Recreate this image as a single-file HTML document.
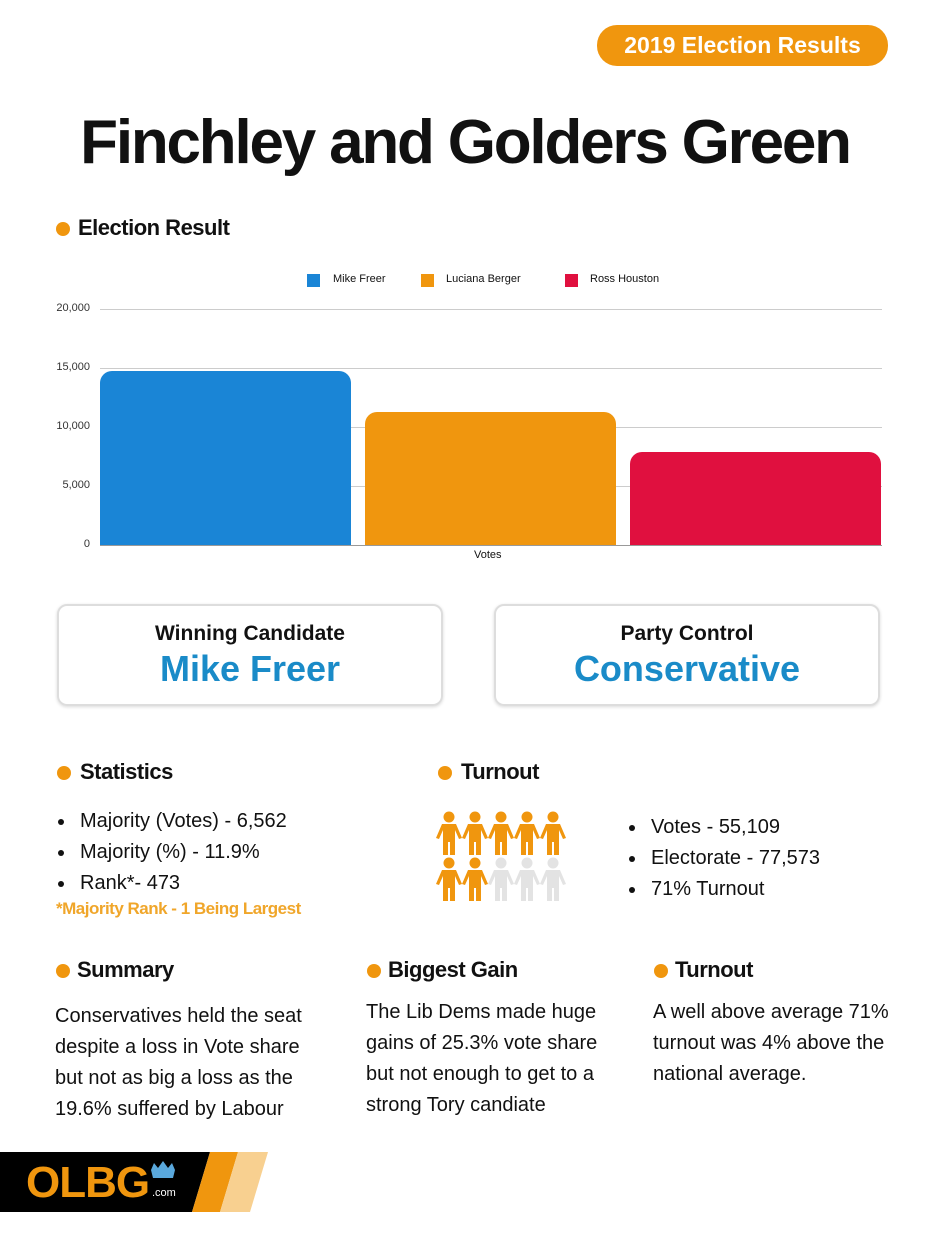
<!DOCTYPE html>
<html><head><meta charset="utf-8"><style>
*{margin:0;padding:0;box-sizing:border-box}
body{width:930px;height:1250px;background:#fff;font-family:"Liberation Sans",sans-serif;position:relative;overflow:hidden;color:#111}
.a{position:absolute}
.dot{position:absolute;width:14px;height:14px;border-radius:50%;background:#f0960e}
.h{font-size:22px;font-weight:bold;letter-spacing:-0.5px}
.box{position:absolute;border:2px solid #ddd;border-radius:10px;text-align:center;box-shadow:0 1px 3px rgba(0,0,0,.15)}
.box .t{font-size:21px;font-weight:bold;margin-top:16px}
.box .v{font-size:36px;font-weight:bold;color:#1a8bc8;margin-top:2px}
ul{list-style:none}
li{font-size:20px;line-height:31px;position:relative;padding-left:24px}
li:before{content:"";position:absolute;left:2px;top:13px;width:6px;height:6px;border-radius:50%;background:#111}
.p{font-size:20px;line-height:31px}
.tick{position:absolute;font-size:11px;color:#333;right:840px;text-align:right}
.grid{position:absolute;left:100px;width:782px;height:1px;background:#ccc}
</style></head><body>
<div class="a" style="left:597px;top:25px;width:291px;height:41px;background:#f0960e;border-radius:20px;color:#fff;font-size:23px;font-weight:bold;text-align:center;line-height:41px">2019 Election Results</div>
<div class="a" style="left:0;width:930px;top:107px;text-align:center;font-size:62px;font-weight:bold;letter-spacing:-2.2px">Finchley and Golders Green</div>

<div class="dot" style="left:56px;top:222px"></div><div class="a h" style="left:78px;top:215px">Election Result</div>

<div class="a" style="left:307px;top:274px;width:13px;height:13px;background:#1a85d6"></div><div class="a" style="left:333px;top:273px;font-size:11px">Mike Freer</div>
<div class="a" style="left:421px;top:274px;width:13px;height:13px;background:#f0960e"></div><div class="a" style="left:446px;top:273px;font-size:11px">Luciana Berger</div>
<div class="a" style="left:565px;top:274px;width:13px;height:13px;background:#e0103f"></div><div class="a" style="left:590px;top:273px;font-size:11px">Ross Houston</div>

<div class="grid" style="top:309px"></div><div class="grid" style="top:368px"></div><div class="grid" style="top:427px"></div><div class="grid" style="top:486px"></div><div class="grid" style="top:545px;background:#999"></div>
<div class="tick" style="top:302px">20,000</div><div class="tick" style="top:361px">15,000</div><div class="tick" style="top:420px">10,000</div><div class="tick" style="top:479px">5,000</div><div class="tick" style="top:538px">0</div>
<div class="a" style="left:100px;top:371px;width:251px;height:174px;background:#1a85d6;border-radius:12px 12px 0 0"></div>
<div class="a" style="left:365px;top:412px;width:251px;height:133px;background:#f0960e;border-radius:12px 12px 0 0"></div>
<div class="a" style="left:630px;top:452px;width:251px;height:93px;background:#e0103f;border-radius:12px 12px 0 0"></div>
<div class="a" style="left:474px;top:549px;font-size:11px">Votes</div>

<div class="box" style="left:57px;top:604px;width:386px;height:102px"><div class="t">Winning Candidate</div><div class="v">Mike Freer</div></div>
<div class="box" style="left:494px;top:604px;width:386px;height:102px"><div class="t">Party Control</div><div class="v">Conservative</div></div>

<div class="dot" style="left:57px;top:766px"></div><div class="a h" style="left:80px;top:759px">Statistics</div>
<div class="dot" style="left:438px;top:766px"></div><div class="a h" style="left:461px;top:759px">Turnout</div>
<ul class="a" style="left:56px;top:806px"><li>Majority (Votes) - 6,562</li><li>Majority (%) - 11.9%</li><li>Rank*- 473</li></ul>
<div class="a" style="left:56px;top:899px;font-size:17px;font-weight:bold;color:#f0a62a;letter-spacing:-0.5px">*Majority Rank - 1 Being Largest</div>

<svg class="a" style="left:436px;top:810px" width="132" height="94" viewBox="0 0 132 94">
<defs><g id="m"><circle cx="13" cy="7" r="5.5"/><path d="M6 14h14l6 14-3 1-4-9v25h-5V32h-2v13H7V20l-4 9-3-1z"/></g></defs>
<g fill="#f0960e"><use href="#m" x="0"/><use href="#m" x="26"/><use href="#m" x="52"/><use href="#m" x="78"/><use href="#m" x="104"/><use href="#m" x="0" y="46"/><use href="#m" x="26" y="46"/></g>
<g fill="#e3e3e3"><use href="#m" x="52" y="46"/><use href="#m" x="78" y="46"/><use href="#m" x="104" y="46"/></g>
</svg>
<ul class="a" style="left:627px;top:812px"><li>Votes - 55,109</li><li>Electorate - 77,573</li><li>71% Turnout</li></ul>

<div class="dot" style="left:56px;top:964px"></div><div class="a h" style="left:77px;top:957px">Summary</div>
<div class="dot" style="left:367px;top:964px"></div><div class="a h" style="left:388px;top:957px">Biggest Gain</div>
<div class="dot" style="left:654px;top:964px"></div><div class="a h" style="left:675px;top:957px">Turnout</div>
<div class="a p" style="left:55px;top:1001px;width:256px">Conservatives held the seat despite a loss in Vote share but not as big a loss as the 19.6% suffered by Labour</div>
<div class="a p" style="left:366px;top:997px;width:248px">The Lib Dems made huge gains of 25.3% vote share but not enough to get to a strong Tory candiate</div>
<div class="a p" style="left:653px;top:997px;width:248px">A well above average 71% turnout was 4% above the national average.</div>

<svg class="a" style="left:0;top:1152px" width="270" height="62">
<polygon points="0,0 210,0 192,60 0,60" fill="#000"/>
<polygon points="210,0 238,0 220,60 192,60" fill="#f0960e"/>
<polygon points="238,0 268,0 250,60 220,60" fill="#f8d090"/>
<path d="M151 18 l3 -7 4 5 5 -7 5 7 4 -5 3 7 -2 8 h-20z" fill="#5aa8dc"/>
</svg>
<div class="a" style="left:26px;top:1158px;font-size:44px;font-weight:bold;color:#f0960e;letter-spacing:-1px">OLBG</div>
<div class="a" style="left:152px;top:1187px;font-size:11px;color:#fff">.com</div>
</body></html>
